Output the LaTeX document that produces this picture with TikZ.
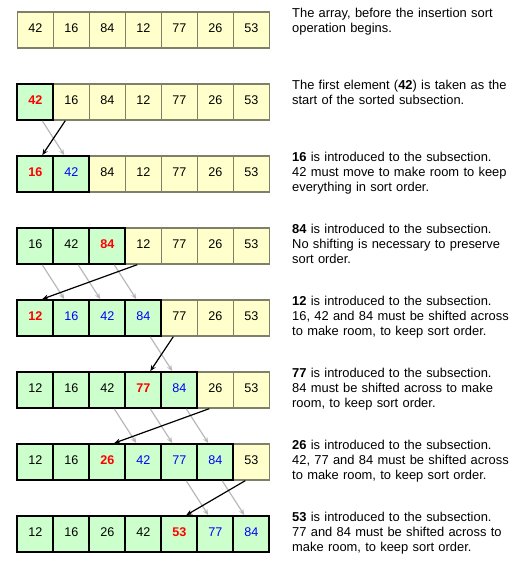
\documentclass[tikz,border=0pt]{standalone}
\usepackage{fontspec}
\setmainfont{Liberation Sans}
\usetikzlibrary{arrows.meta}
\definecolor{yfill}{HTML}{FFFFCC}
\definecolor{ydraw}{HTML}{7F7F6A}
\definecolor{gfill}{HTML}{CCFFCC}
\definecolor{shiftgray}{HTML}{B8B8B8}
\newcommand\numfont{\fontsize{12.6}{14}\selectfont}
\newcommand\descfont{\fontsize{12.9}{14.7}\selectfont}
\tikzset{
  cell/.style={minimum width=36pt, minimum height=36pt, inner sep=0pt, text height=9pt, text depth=3.6pt, font=\numfont},
  yc/.style={cell, fill=yfill, draw=ydraw, line width=1.3pt},
  gk/.style={cell, fill=gfill, draw=black, line width=1.8pt},
  gr/.style={gk, text=red, font=\numfont\bfseries},
  gb/.style={gk, text=blue},
  desc/.style={anchor=base west, inner sep=0pt, text width=229pt, align=left, font=\descfont},
  insarrow/.style={draw=black, line width=1.2pt, -{Stealth[length=6pt,width=5pt]}},
  shiftarrow/.style={draw=shiftgray, line width=1.2pt, -{Stealth[length=6pt,width=5pt]}}
}
\begin{document}
\begin{tikzpicture}[x=1pt, y=-1pt]
\useasboundingbox (0,0) rectangle (521,570);
% row 1
\foreach \i/\v/\s in {0/42/yc,1/16/yc,2/84/yc,3/12/yc,4/77/yc,5/26/yc,6/53/yc}
  \node[\s] (r1c\i) at ({35.3+36*\i},30) {\v};
% row 2
\foreach \i/\v/\s in {1/16/yc,2/84/yc,3/12/yc,4/77/yc,5/26/yc,6/53/yc,0/42/gr}
  \node[\s] (r2c\i) at ({35.3+36*\i},102) {\v};
% row 3
\foreach \i/\v/\s in {2/84/yc,3/12/yc,4/77/yc,5/26/yc,6/53/yc,0/16/gr,1/42/gb}
  \node[\s] (r3c\i) at ({35.3+36*\i},174) {\v};
% row 4
\foreach \i/\v/\s in {3/12/yc,4/77/yc,5/26/yc,6/53/yc,0/16/gk,1/42/gk,2/84/gr}
  \node[\s] (r4c\i) at ({35.3+36*\i},246) {\v};
% row 5
\foreach \i/\v/\s in {4/77/yc,5/26/yc,6/53/yc,0/12/gr,1/16/gb,2/42/gb,3/84/gb}
  \node[\s] (r5c\i) at ({35.3+36*\i},318) {\v};
% row 6
\foreach \i/\v/\s in {5/26/yc,6/53/yc,0/12/gk,1/16/gk,2/42/gk,3/77/gr,4/84/gb}
  \node[\s] (r6c\i) at ({35.3+36*\i},390) {\v};
% row 7
\foreach \i/\v/\s in {6/53/yc,0/12/gk,1/16/gk,2/26/gr,3/42/gb,4/77/gb,5/84/gb}
  \node[\s] (r7c\i) at ({35.3+36*\i},462) {\v};
% row 8
\foreach \i/\v/\s in {0/12/gk,1/16/gk,2/26/gk,3/42/gk,4/53/gr,5/77/gb,6/84/gb}
  \node[\s] (r8c\i) at ({35.3+36*\i},534) {\v};

% shift arrows (gray)
\foreach \a/\b/\c/\d in {2/0/3/1, 4/0/5/1, 4/1/5/2, 4/2/5/3, 5/3/6/4, 6/2/7/3, 6/3/7/4, 6/4/7/5, 7/4/8/5, 7/5/8/6}
  \draw[shiftarrow] ([xshift=7pt]r\a c\b.south) -- ([xshift=-7pt]r\c c\d.north);
% insertion arrows (black)
\foreach \a/\b/\c/\d in {2/1/3/0, 4/3/5/0, 5/4/6/3, 6/5/7/2, 7/6/8/4}
  \draw[insarrow] ([xshift=-6pt]r\a c\b.south) -- ([xshift=7pt]r\c c\d.north);

% descriptions
\node[desc] (d1) at (292,17.7) {The array, before the insertion sort\\operation begins.};
\node[desc] (d2) at (292,89.7) {The first element (\textbf{42}) is taken as the\\start of the sorted subsection.};
\node[desc] (d3) at (292,161.7) {\textbf{16} is introduced to the subsection.\\42 must move to make room to keep\\everything in sort order.};
\node[desc] (d4) at (292,233.7) {\textbf{84} is introduced to the subsection.\\No shifting is necessary to preserve\\sort order.};
\node[desc] (d5) at (292,305.7) {\textbf{12} is introduced to the subsection.\\16, 42 and 84 must be shifted across\\to make room, to keep sort order.};
\node[desc] (d6) at (292,377.7) {\textbf{77} is introduced to the subsection.\\84 must be shifted across to make\\room, to keep sort order.};
\node[desc] (d7) at (292,449.7) {\textbf{26} is introduced to the subsection.\\42, 77 and 84 must be shifted across\\to make room, to keep sort order.};
\node[desc] (d8) at (292,521.7) {\textbf{53} is introduced to the subsection.\\77 and 84 must be shifted across to\\make room, to keep sort order.};
\end{tikzpicture}
\end{document}
